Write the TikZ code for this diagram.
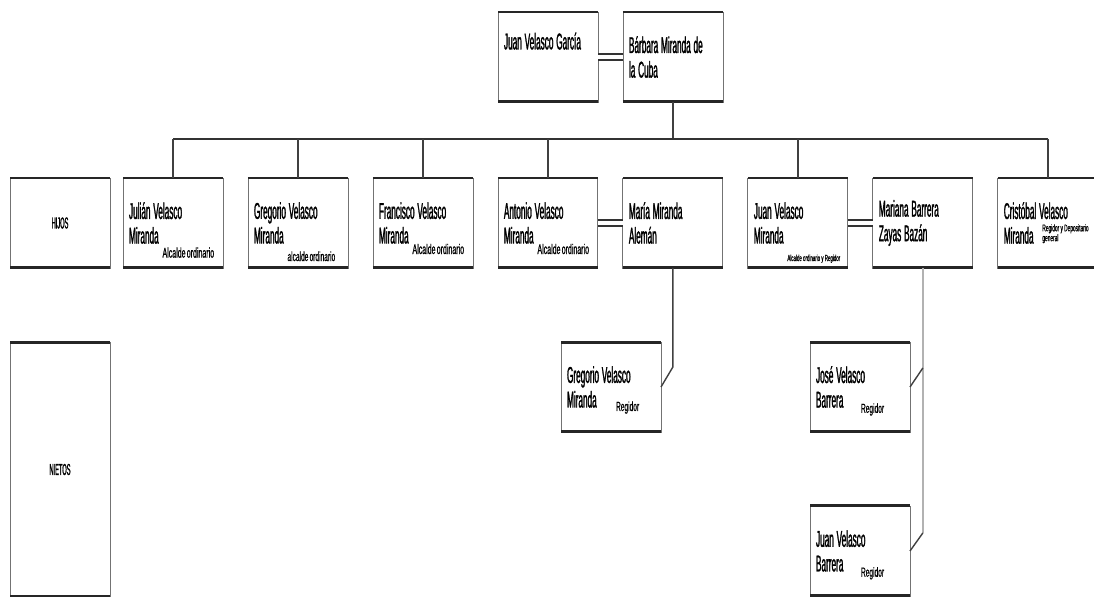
\documentclass[tikz,border=0pt]{standalone}
\usepackage{fontspec}
\newfontfamily\namefont[FakeStretch=0.36, FakeBold=1.2]{Liberation Sans}
\newfontfamily\rolefont[FakeStretch=0.5, FakeBold=0.8]{Liberation Sans}
\usetikzlibrary{positioning}
\newcommand\namesize{\namefont\fontsize{13}{14}\selectfont}
\newcommand\cargo[3]{\smash{\raisebox{#1}{\rolefont\fontsize{#2}{#2}\selectfont\spaceskip=0.7pt plus 0.2pt\relax #3}}}

\begin{document}
\begin{tikzpicture}[x=0.02cm, y=-0.02cm,
person/.style={rectangle, draw=black!55, line width=0.5pt, fill=white, outer sep=0pt, minimum width=2cm, minimum height=1.8cm, text width=1.76cm, inner xsep=0.12cm, align=left, font=\namesize, execute at begin node={\spaceskip=1.6pt plus 0.4pt\relax}},
group/.style={rectangle, draw=black!55, line width=0.5pt, fill=white, outer sep=0pt, minimum width=2cm, minimum height=1.8cm, align=center, font=\namefont\fontsize{9}{10}\selectfont},
rim/.style={line width=1.7pt, draw=black!85},
marriage/.style={draw=black!80, line width=0.8pt, double=white, double distance=2.4pt},
bar/.style={draw=black!80, line width=1pt},
kin/.style={draw=black!75, line width=0.8pt},
faint/.style={draw=black!30, line width=1pt}
]
\useasboundingbox (0,0) rectangle (1094,597);

% Parents
\node[person] (juan) at (548,57) {Juan Velasco García\\\strut};
\node[person, right=0.5cm of juan] (barbara) {Bárbara Miranda de\\la Cuba};

% Sons
\node[person] (julian) at (173,223) {Julián Velasco\\Miranda\,\cargo{-8pt}{8}{Alcalde ordinario}};
\node[group, left=0.26cm of julian] (hijos) {HIJOS};
\node[person, right=0.5cm of julian] (gregorio) {Gregorio Velasco\\Miranda\,\cargo{-10pt}{7.5}{alcalde ordinario}};
\node[person, right=0.5cm of gregorio] (francisco) {Francisco Velasco\\Miranda\,\cargo{-6pt}{8}{Alcalde ordinario}};
\node[person, right=0.5cm of francisco] (antonio) {Antonio Velasco\\Miranda\,\cargo{-6pt}{8}{Alcalde ordinario}};
\node[person, right=0.5cm of antonio] (maria) {María Miranda\\Alemán};
\node[person, right=0.5cm of maria] (juanm) {Juan Velasco\\Miranda\,\cargo{-10pt}{5}{Alcalde ordinario y Regidor}};
\node[person, right=0.5cm of juanm] (mariana) {Mariana Barrera\\Zayas Bazán};
\node[person, right=0.5cm of mariana] (cristobal) {Cristóbal Velasco\\Miranda\hspace{5pt}\cargo{7pt}{5.5}{\begin{tabular}[t]{@{}l@{}}Regidor y Depositario\\general\end{tabular}}};

% Grandsons
\node[group, minimum height=5.1cm] (nietos) at (60,469.5) {NIETOS};
\node[person] (gregoriom) at (611,387) {Gregorio Velasco\\Miranda\hspace{11pt}\cargo{-2pt}{7.5}{Regidor}};
\node[person] (jose) at (860,387) {José Velasco\\Barrera\hspace{10pt}\cargo{-3pt}{7.5}{Regidor}};
\node[person, below=1.48cm of jose] (juanb) {Juan Velasco\\Barrera\hspace{10pt}\cargo{-3pt}{7.5}{Regidor}};

\foreach \n in {juan,barbara,hijos,julian,gregorio,francisco,antonio,maria,juanm,mariana,cristobal,nietos,gregoriom,jose,juanb} {
  \draw[rim] (\n.north west) -- (\n.north east);
  \draw[rim] (\n.south west) -- (\n.south east);
}

% Marriages
\draw[marriage] (juan.east) -- (barbara.west);
\draw[marriage] (antonio.east) -- (maria.west);
\draw[marriage] (juanm.east) -- (mariana.west);

% Descent
\coordinate[below=0.74cm of barbara.south] (fork);
\draw[kin] (barbara.south) -- (fork);
\draw[bar] (julian.north |- fork) -- (cristobal.north |- fork);
\foreach \n in {julian,gregorio,francisco,antonio,juanm,cristobal}
  \draw[kin] (\n.north |- fork) -- (\n.north);

\coordinate[below=1.98cm of maria.south] (mknee);
\draw[kin] (maria.south) -- (mknee) -- (gregoriom.east);

\coordinate[below=2cm of mariana.south] (bknee);
\coordinate[below=5.3cm of mariana.south] (bfoot);
\draw[faint] (mariana.south) -- (bfoot);
\draw[kin] (bknee) -- (jose.east);
\draw[kin] (bfoot) -- (juanb.east);

\end{tikzpicture}
\end{document}
